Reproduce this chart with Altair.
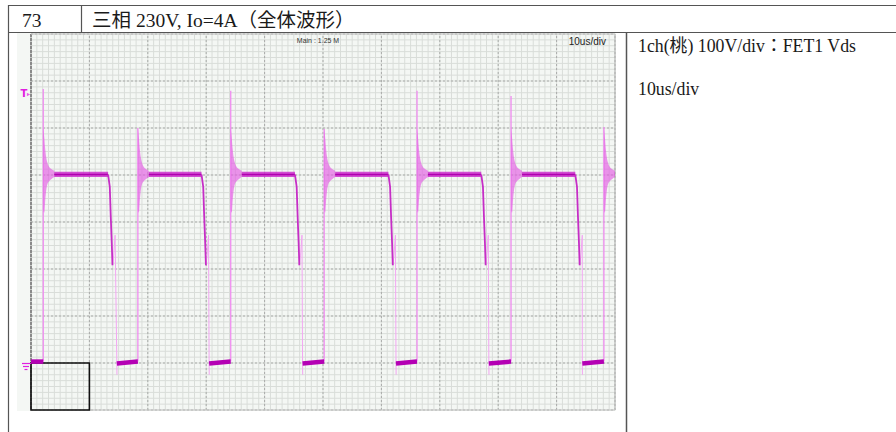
import altair as alt
import pandas as pd

# ---------------- data ----------------
# time axis in microseconds (10 us/div), Vds in volts (100 V/div), ground = 0 V
rise_t = [2.1, 18.3, 34.2, 50.2, 66.1, 82.2, 98.1]          # turn-off edges (Vds rises)
spike_top_v = [583, 500, 579, 498, 579, 568, 502]           # surge peak at each edge
fall_t = [13.2, 29.2, 45.2, 61.2, 77.1, 93.2]               # start of Vds fall
low_start_t = [0.0, 14.7, 30.5, 46.5, 62.5, 78.4, 94.4]     # start of on-state (0 V) segment
low_v_first = [3, -1, -1, -1, -1, -1, -1]
low_v_last = [3, 3, 3, 3, 3, 3, 3]
high_lo_v = 396
high_hi_v = 407
high_mid_v = 401

# ringing envelope after each turn-off edge (offset in us from the edge)
ring_dt = [0.0, 0.17, 0.34, 0.51, 0.68, 1.03, 1.37, 1.88]
ring_hi_v = [500, 480, 455, 437, 427, 417, 413, 409]
ring_lo_v = [325, 320, 347, 368, 379, 387, 391, 396]

# falling edge shape (offset in us from fall start)
fall_dt = [0.0, 0.29, 0.46, 0.63, 0.75]
fall_v = [401, 375, 311, 255, 208]
tail_dt = [0.75, 0.95, 1.2]
tail_v = [208, 228, 272]

grid_t_major = [0, 10, 20, 30, 40, 50, 60, 70, 80, 90, 100]
grid_v_major = [-100, 0, 100, 200, 300, 400, 500, 600, 700]

header_no = "73"
header_title = "三相 230V, Io=4A（全体波形）"
note_line1 = "1ch(桃) 100V/div：FET1 Vds"
note_line2 = "10us/div"
scope_main = "Main : 1.25 M"
scope_tdiv = "10us/div"

# ---------------- build tables ----------------
T_MAX = 100.0
ring_rows, band_rows, fall_rows, tail_rows, spike_rows, low_rows = [], [], [], [], [], []
for i, R in enumerate(rise_t):
    for k, (dt, hi, lo) in enumerate(zip(ring_dt, ring_hi_v, ring_lo_v)):
        t = R + dt
        if t <= T_MAX:
            ring_rows.append({"cyc": i, "t": t, "hi": hi, "lo": lo})
    end = fall_t[i] if i < len(fall_t) else T_MAX
    band_rows.append({"t0": R + ring_dt[-1], "t1": end, "lo": high_lo_v,
                      "hi": high_hi_v, "mid": high_mid_v})
    spike_rows.append({"t": R, "v0": low_v_last[i], "v1": spike_top_v[i]})
    low_rows.append({"seg": i, "k": 0, "t": low_start_t[i], "v": low_v_first[i]})
    low_rows.append({"seg": i, "k": 1, "t": R, "v": low_v_last[i]})

for i, F in enumerate(fall_t):
    for k, (dt, v) in enumerate(zip(fall_dt, fall_v)):
        fall_rows.append({"seg": i, "k": k, "t": F + dt, "v": v})
    pts = [(F + dt, v) for dt, v in zip(tail_dt, tail_v)]
    L = low_start_t[i + 1]
    pts += [(L, 0), (L + 0.02, -25)]
    for k, (t, v) in enumerate(pts):
        tail_rows.append({"seg": i, "k": k, "t": t, "v": v})

minor_t = pd.DataFrame({"t": [float(x) for x in range(0, 101)], "v0": -100, "v1": 700})
minor_v = pd.DataFrame({"v": [-100 + 12.5 * k for k in range(65)], "t0": 0, "t1": 100})
major_t = pd.DataFrame({"t": grid_t_major, "v0": -100, "v1": 700})
major_v = pd.DataFrame({"v": grid_v_major, "t0": 0, "t1": 100})

XS = alt.Scale(domain=[0, 100], range=[31, 615], zero=False, nice=False)
YS = alt.Scale(domain=[-100, 700], range=[410, 34], zero=False, nice=False)


def X(f):
    return alt.X(f, type="quantitative", scale=XS, axis=None)


def Y(f):
    return alt.Y(f, type="quantitative", scale=YS, axis=None)


one = pd.DataFrame({"a": [0]})


def prule(x, y, x2=None, y2=None, color="#444", w=1.0, dash=None):
    enc = {"x": alt.value(x), "y": alt.value(y)}
    if x2 is not None:
        enc["x2"] = alt.value(x2)
    if y2 is not None:
        enc["y2"] = alt.value(y2)
    kw = {"color": color, "strokeWidth": w}
    if dash:
        kw["strokeDash"] = dash
    return alt.Chart(one).mark_rule(**kw).encode(**enc)


def ptext(s, x, y, size, font, color="#1a1a1a", align="left", weight="normal"):
    return alt.Chart(one).mark_text(text=s, align=align, baseline="alphabetic",
                                    fontSize=size, font=font, color=color,
                                    fontWeight=weight).encode(
        x=alt.value(x), y=alt.value(y))


SERIF = "Liberation Serif, Times New Roman, Noto Sans CJK JP"
SANS = "Liberation Sans, Arial, sans-serif"

layers = []
# scope image background
layers.append(alt.Chart(one).mark_rect(color="#f4f7f4").encode(
    x=alt.value(17), x2=alt.value(616), y=alt.value(33), y2=alt.value(411)))
# minor grid
layers.append(alt.Chart(minor_t).mark_rule(color="#d9ddd9", strokeWidth=1).encode(
    x=X("t"), y=Y("v0"), y2="v1"))
layers.append(alt.Chart(minor_v).mark_rule(color="#d9ddd9", strokeWidth=1).encode(
    y=Y("v"), x=X("t0"), x2="t1"))
# major grid (dotted)
layers.append(alt.Chart(major_t).mark_rule(color="#a9aba9", strokeWidth=1,
                                           strokeDash=[2, 2]).encode(
    x=X("t"), y=Y("v0"), y2="v1"))
layers.append(alt.Chart(major_v).mark_rule(color="#a9aba9", strokeWidth=1,
                                           strokeDash=[2, 2]).encode(
    y=Y("v"), x=X("t0"), x2="t1"))
# scope frame
layers.append(prule(31, 34, y2=410, color="#8a8a8a", w=2, dash=[3, 1]))
layers.append(prule(615, 34, y2=410, color="#b5b5b5", w=1))
layers.append(prule(31, 34, x2=615, color="#c8c8c8", w=1))
layers.append(prule(31, 410, x2=615, color="#c8c8c8", w=1))
# black box (one division)
box = pd.DataFrame({"t0": [0], "t1": [10], "v0": [-100], "v1": [0]})
layers.append(alt.Chart(box).mark_rect(fillOpacity=0, stroke="#111111",
                                       strokeWidth=1.6).encode(
    x=X("t0"), x2="t1", y=Y("v0"), y2="v1"))

# ---------------- trace ----------------
spike_df = pd.DataFrame(spike_rows)
layers.append(alt.Chart(spike_df).mark_rule(color="#f08cf0", strokeWidth=1.3).encode(
    x=X("t"), y=Y("v0"), y2="v1"))
ring_df = pd.DataFrame(ring_rows)
layers.append(alt.Chart(ring_df).mark_area(color="#e45ce4", opacity=0.65,
                                           interpolate="monotone").encode(
    x=X("t"), y=Y("hi"), y2="lo", detail="cyc:N"))
band_df = pd.DataFrame(band_rows)
layers.append(alt.Chart(band_df).mark_rect(color="#cc30cc", opacity=0.85).encode(
    x=X("t0"), x2="t1", y=Y("lo"), y2="hi"))
layers.append(alt.Chart(band_df).mark_rule(color="#b000b0", strokeWidth=1.5).encode(
    x=X("t0"), x2="t1", y=Y("mid")))
tail_df = pd.DataFrame(tail_rows)
layers.append(alt.Chart(tail_df).mark_line(color="#f2a6f2", strokeWidth=1).encode(
    x=X("t"), y=Y("v"), detail="seg:N", order="k:Q"))
fall_df = pd.DataFrame(fall_rows)
layers.append(alt.Chart(fall_df).mark_line(color="#c62ec6", strokeWidth=1.8).encode(
    x=X("t"), y=Y("v"), detail="seg:N", order="k:Q"))
low_df = pd.DataFrame(low_rows)
layers.append(alt.Chart(low_df).mark_line(color="#b400b4", strokeWidth=4.5).encode(
    x=X("t"), y=Y("v"), detail="seg:N", order="k:Q"))

# trigger and ground markers
layers.append(ptext("T", 24, 97, 10, "DejaVu Sans", color="#e020e0", weight="bold",
                    align="center"))
layers.append(alt.Chart(one).mark_point(shape="triangle-right", filled=True,
                                        color="#e020e0", size=14).encode(
    x=alt.value(28.5), y=alt.value(94.5)))
layers.append(prule(22, 363.5, x2=31, color="#e020e0", w=1.2))
layers.append(prule(23, 366.5, x2=29, color="#e020e0", w=1.2))
layers.append(prule(24.5, 369.5, x2=27.5, color="#e020e0", w=1.2))

# scope labels
layers.append(ptext(scope_main, 318, 43, 7, SANS, color="#333333", align="center"))
layers.append(ptext(scope_tdiv, 606, 45, 10, SANS, color="#222222", align="right"))

# ---------------- table ----------------
layers.append(prule(8, 5.5, x2=896, color="#555555", w=1.2))
layers.append(prule(8, 32.5, x2=896, color="#555555", w=1.2))
layers.append(prule(8.5, 5, y2=432, color="#555555", w=1.2))
layers.append(prule(81.5, 5, y2=32, color="#555555", w=1.2))
layers.append(prule(626.5, 32, y2=432, color="#555555", w=1.5))

layers.append(ptext(header_no, 22, 27, 19.5, SERIF))
layers.append(ptext(header_title, 92, 27, 19.5, SERIF))
layers.append(ptext(note_line1, 638, 52, 17.8, SERIF))
layers.append(ptext(note_line2, 638, 95, 17.8, SERIF))

chart = alt.layer(*layers).properties(
    width=896, height=432, padding=0,
    autosize=alt.AutoSizeParams(type="none"),
    background="white",
).configure_view(strokeWidth=0)

chart.save("out.html", embed_options={"renderer": "svg", "actions": False})
